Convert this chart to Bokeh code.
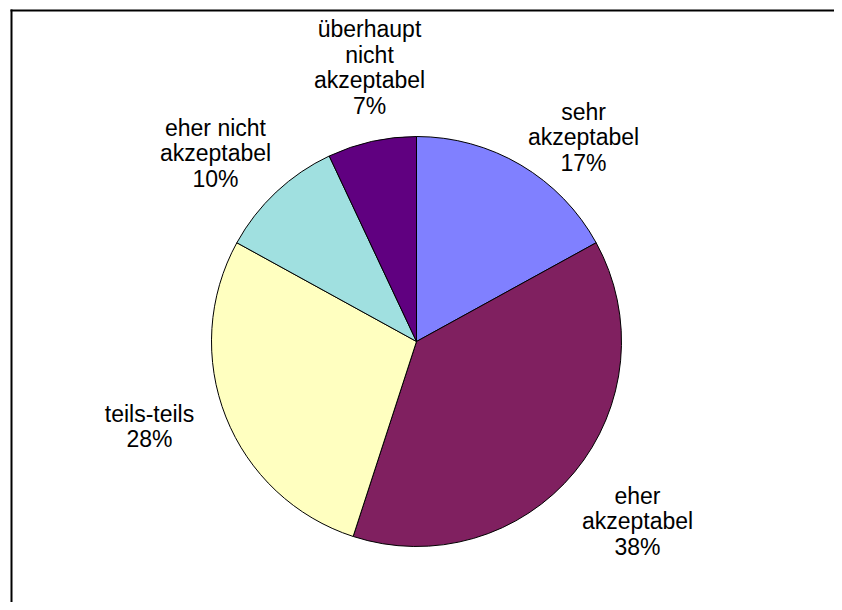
import math
from bokeh.plotting import figure
from bokeh.models import Range1d, ColumnDataSource
from bokeh.core.properties import value
from bokeh.embed import file_html
from bokeh.resources import INLINE

# data
categories = ["sehr\nakzeptabel", "eher\nakzeptabel", "teils-teils",
              "eher nicht\nakzeptabel", "überhaupt\nnicht\nakzeptabel"]
shares = [17, 38, 28, 10, 7]
colors = ["#8080FF", "#802060", "#FFFFC0", "#A0E0E0", "#600080"]

# layout (page pixels)
W, H = 834, 602
CX, CY, R = 416, 341, 205
label_pos = [(583, 137), (637, 521), (149, 426), (215, 153), (369, 67)]

def px(X):
    return X

def py(Y):
    return H - Y

p = figure(width=W, height=H, output_backend="svg", toolbar_location=None,
           x_range=Range1d(0, W), y_range=Range1d(0, H), min_border=0)
p.axis.visible = False
p.grid.visible = False
p.outline_line_color = None
p.background_fill_color = "white"
p.border_fill_color = "white"

total = sum(shares)
starts, ends = [], []
cum = 0.0
for s in shares:
    a0 = cum / total
    cum += s
    a1 = cum / total
    starts.append(math.pi / 2 - a0 * 2 * math.pi)
    ends.append(math.pi / 2 - a1 * 2 * math.pi)

src = ColumnDataSource(dict(start=starts, end=ends, color=colors))
p.wedge(x=px(CX), y=py(CY), radius=R, start_angle="start", end_angle="end",
        direction="clock", fill_color="color", line_color="black",
        line_width=1, source=src)

labels = [f"{c}\n{s}%" for c, s in zip(categories, shares)]
lsrc = ColumnDataSource(dict(x=[px(a) for a, b in label_pos],
                             y=[py(b) for a, b in label_pos], text=labels))
p.text(x="x", y="y", text="text", source=lsrc, text_align="center",
       text_baseline="middle", text_font=value("Liberation Sans"),
       text_font_size="23px", text_line_height=0.98, text_color="black")

# chart area border (left and top visible)
p.segment(x0=[px(11), px(10)], y0=[0, py(10)],
          x1=[px(11), W], y1=[py(9), py(10)],
          line_color="black", line_width=2)

open("out.html", "w").write(file_html(p, INLINE))
